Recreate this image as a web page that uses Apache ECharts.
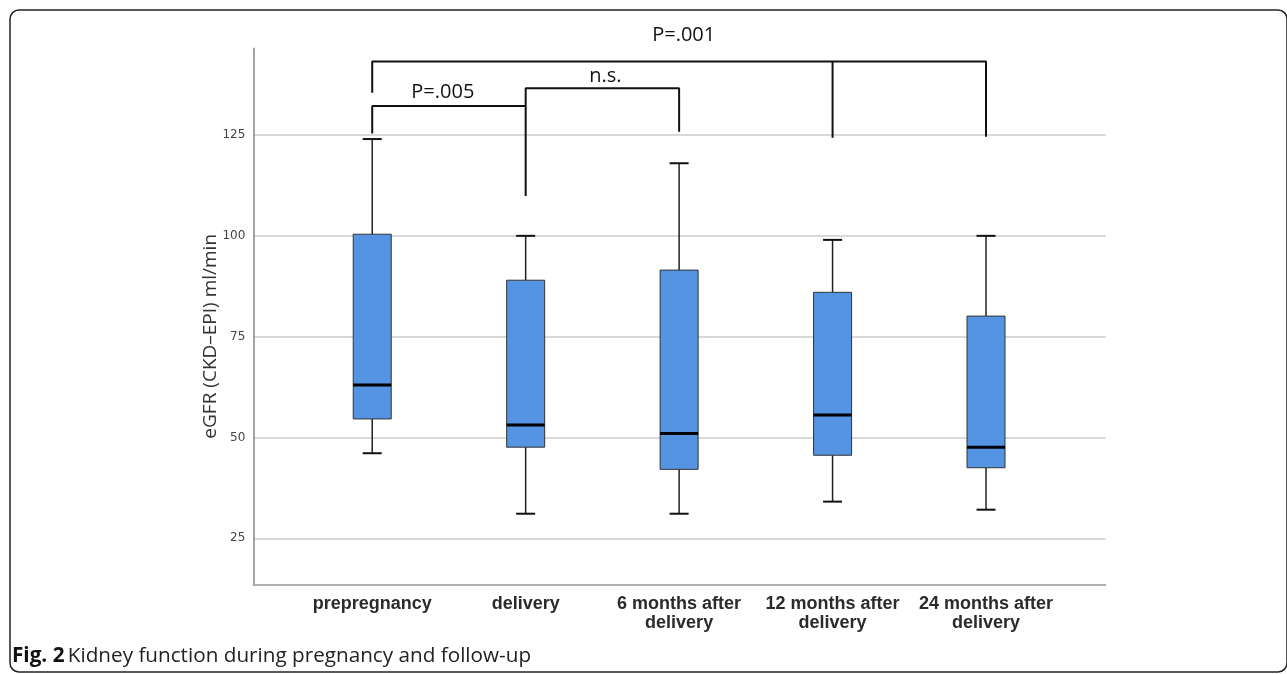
<!DOCTYPE html>
<html>
<head>
<meta charset="utf-8">
<script src="https://cdn.jsdelivr.net/npm/echarts@6/dist/echarts.min.js"></script>
<style>
html,body{margin:0;padding:0;background:#fff;}
#chart{width:1287px;height:674px;}
</style>
</head>
<body>
<div id="chart"></div>
<script>
// ---- data ----
const categories = ['prepregnancy', 'delivery', '6 months after\ndelivery', '12 months after\ndelivery', '24 months after\ndelivery'];
const lowWhisker = [46.1, 31.1, 31.1, 34.1, 32.1];
const q1 = [54.6, 47.6, 42.1, 45.6, 42.5];
const median = [63.0, 53.1, 51.0, 55.6, 47.6];
const q3 = [100.4, 89.0, 91.5, 86.0, 80.1];
const highWhisker = [124.0, 100.0, 118.0, 99.0, 100.0];
const yTicks = [25, 50, 75, 100, 125];
const yName = 'eGFR (CKD\u2013EPI) ml/min';

// significance brackets (category index, value)
const bracket005 = [[0, 125.4], [0, 132.2], [1, 132.2]];
const bracketNS = [[1, 109.9], [1, 136.6], [2, 136.6], [2, 125.8]];
const bracket001 = [[0, 135.5], [0, 143.2], [4, 143.2], [4, 124.6]];
const bracket001b = [[3, 143.2], [3, 124.3]];
const sigLabels = ['P=.005', 'n.s.', 'P=.001'];
const sigLabelPos = [[0.46, 135.7], [1.52, 139.6], [2.03, 149.8]];
const caption = 'Kidney function during pregnancy and follow-up';

// ---- chart ----
const boxData = categories.map((c, i) => [i, lowWhisker[i], q1[i], median[i], q3[i], highWhisker[i]]);
const chart = echarts.init(document.getElementById('chart'), null, {renderer: 'canvas'});

function bracketSeries(data) {
  return {
    type: 'line', data: data, symbol: 'none', clip: false, z: 5,
    lineStyle: {color: '#111', width: 2}, silent: true, animation: false
  };
}

const option = {
  backgroundColor: '#fff',
  animation: false,
  grid: {left: 253.3, right: 181.3, top: 48.3, bottom: 89.7, containLabel: false, outerBoundsMode: 'none'},
  xAxis: {
    type: 'value', min: -0.775, max: 4.78,
    axisLine: {show: true, onZero: false, lineStyle: {color: '#999', width: 1.5}},
    axisTick: {show: false, customValues: [0, 1, 2, 3, 4]},
    splitLine: {show: false},
    axisLabel: {
      customValues: [0, 1, 2, 3, 4],
      formatter: v => categories[Math.round(v)],
      color: '#2b2b2b', fontSize: 18, fontWeight: 'bold',
      fontFamily: 'Liberation Sans, Arial, sans-serif',
      lineHeight: 19, margin: 10
    }
  },
  yAxis: {
    type: 'value', min: 13.6, max: 146.5,
    name: yName, nameLocation: 'middle', nameGap: 33, nameMoveOverlap: false,
    nameTextStyle: {color: '#333', fontSize: 19, fontFamily: 'Open Sans, sans-serif', padding: [0, 40, 0, 0]},
    axisLine: {show: true, onZero: false, lineStyle: {color: '#888', width: 1.5}},
    axisTick: {show: false, customValues: yTicks},
    axisLabel: {customValues: yTicks, color: '#444', fontSize: 12, fontFamily: 'DejaVu Sans, sans-serif', margin: 8},
    splitLine: {show: true, lineStyle: {color: '#cccccc', width: 1.5}}
  },
  series: [
    {
      type: 'custom',
      data: boxData,
      encode: {x: 0, y: [1, 2, 3, 4, 5]},
      z: 3,
      renderItem: function (params, api) {
        const x = api.value(0);
        const pLow = api.coord([x, api.value(1)]);
        const pQ1 = api.coord([x, api.value(2)]);
        const pMed = api.coord([x, api.value(3)]);
        const pQ3 = api.coord([x, api.value(4)]);
        const pHigh = api.coord([x, api.value(5)]);
        const cx = pQ1[0];
        const hw = 19, cw = 9.5;
        const wStyle = {stroke: '#222', lineWidth: 1.5};
        return {
          type: 'group',
          children: [
            {type: 'line', shape: {x1: cx, y1: pHigh[1], x2: cx, y2: pQ3[1]}, style: wStyle},
            {type: 'line', shape: {x1: cx, y1: pQ1[1], x2: cx, y2: pLow[1]}, style: wStyle},
            {type: 'line', shape: {x1: cx - cw, y1: pHigh[1], x2: cx + cw, y2: pHigh[1]}, style: {stroke: '#111', lineWidth: 2}},
            {type: 'line', shape: {x1: cx - cw, y1: pLow[1], x2: cx + cw, y2: pLow[1]}, style: {stroke: '#111', lineWidth: 2}},
            {type: 'rect', shape: {x: cx - hw, y: pQ3[1], width: 2 * hw, height: pQ1[1] - pQ3[1]},
              style: {fill: '#5594e3', stroke: '#333', lineWidth: 1}},
            {type: 'line', shape: {x1: cx - hw, y1: pMed[1], x2: cx + hw, y2: pMed[1]}, style: {stroke: '#000', lineWidth: 3}}
          ]
        };
      }
    },
    bracketSeries(bracket005),
    bracketSeries(bracketNS),
    bracketSeries(bracket001),
    bracketSeries(bracket001b),
    {
      type: 'custom',
      data: sigLabelPos.map((p, i) => [p[0], p[1], i]),
      encode: {x: 0, y: 1},
      z: 6,
      clip: false,
      renderItem: function (params, api) {
        const p = api.coord([api.value(0), api.value(1)]);
        return {
          type: 'text',
          x: p[0], y: p[1],
          style: {text: sigLabels[api.value(2)], fill: '#111', fontSize: 20,
            fontFamily: 'Open Sans, sans-serif', align: 'center', verticalAlign: 'middle'}
        };
      }
    }
  ],
  graphic: [
    {type: 'rect', shape: {x: 10, y: 10, width: 1277, height: 662, r: 9},
      style: {fill: 'none', stroke: '#222', lineWidth: 1.5}, z: 10, silent: true},
    {type: 'text', left: 12, top: 646,
      style: {rich: {b: {fontWeight: 'bold', fontSize: 20.7, fontFamily: 'Open Sans, sans-serif', fill: '#111'},
                     n: {fontSize: 20.7, fontFamily: 'Open Sans, sans-serif', fill: '#222'}},
              text: '{b|Fig. 2} {n|' + caption + '}'}}
  ]
};
chart.setOption(option);
</script>
</body>
</html>
